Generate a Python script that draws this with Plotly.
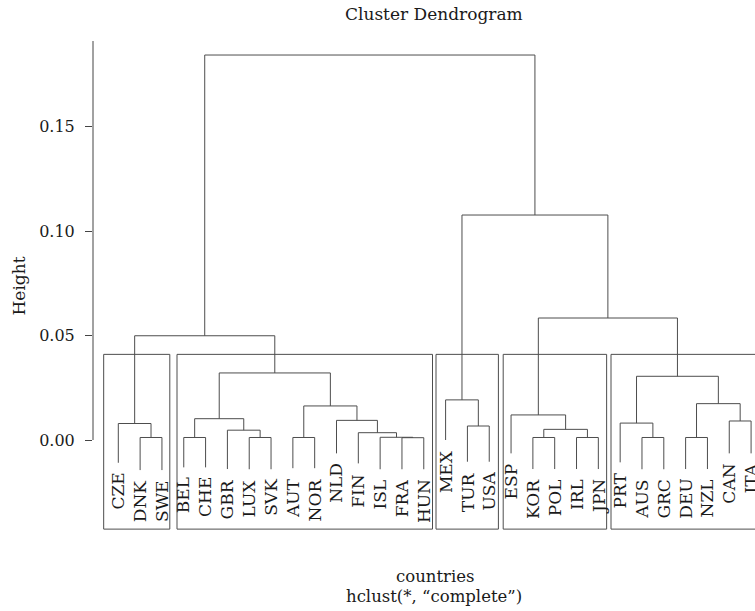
import plotly.graph_objects as go

# ---------------- data ----------------
leaf_labels = ["CZE", "DNK", "SWE", "BEL", "CHE", "GBR", "LUX", "SVK", "AUT", "NOR",
               "NLD", "FIN", "ISL", "FRA", "HUN", "MEX", "TUR", "USA", "ESP", "KOR",
               "POL", "IRL", "JPN", "PRT", "AUS", "GRC", "DEU", "NZL", "CAN", "ITA"]

# lower end of each leaf's hanging line (Height units)
leaf_ends = [-0.0109, -0.0144, -0.0144, -0.0131, -0.0131, -0.0139, -0.0140, -0.0140, -0.0135, -0.0135,
             -0.0064, -0.0112, -0.0140, -0.0140, -0.0140, 0.0000, -0.0104, -0.0104, -0.0064, -0.0139,
             -0.0139, -0.0139, -0.0139, -0.0107, -0.0140, -0.0140, -0.0139, -0.0139, -0.0064, -0.0064]

# merges: (name, child a, child b, height)
merges = [
    ("m1", "DNK", "SWE", 0.0012),
    ("m2", "CZE", "m1", 0.0079),
    ("m3", "BEL", "CHE", 0.0012),
    ("m4", "LUX", "SVK", 0.0012),
    ("m5", "GBR", "m4", 0.0047),
    ("m6", "m3", "m5", 0.0102),
    ("m7", "AUT", "NOR", 0.0012),
    ("m8", "FRA", "HUN", 0.0011),
    ("m9", "ISL", "m8", 0.0013),
    ("m10", "FIN", "m9", 0.0035),
    ("m11", "NLD", "m10", 0.0094),
    ("m12", "m7", "m11", 0.0163),
    ("m13", "m6", "m12", 0.0321),
    ("m14", "m2", "m13", 0.0499),
    ("m15", "TUR", "USA", 0.0067),
    ("m16", "MEX", "m15", 0.0192),
    ("m17", "KOR", "POL", 0.0012),
    ("m18", "IRL", "JPN", 0.0012),
    ("m19", "m17", "m18", 0.0051),
    ("m20", "ESP", "m19", 0.0120),
    ("m21", "AUS", "GRC", 0.0012),
    ("m22", "PRT", "m21", 0.0081),
    ("m23", "DEU", "NZL", 0.0012),
    ("m24", "CAN", "ITA", 0.0091),
    ("m25", "m23", "m24", 0.0174),
    ("m26", "m22", "m25", 0.0305),
    ("m27", "m20", "m26", 0.0584),
    ("m28", "m16", "m27", 0.1077),
    ("m29", "m14", "m28", 0.1843),
]

# rect.hclust boxes (k = 5): first and last leaf of each cluster
cluster_first = ["CZE", "BEL", "MEX", "ESP", "PRT"]
cluster_last = ["SWE", "HUN", "USA", "JPN", "ITA"]
box_top = 0.041

y_tick_vals = [0.0, 0.05, 0.10, 0.15]
y_tick_text = ["0.00", "0.05", "0.10", "0.15"]

title_text = "Cluster Dendrogram"
x_title = "countries"
sub_title = "hclust(*, \u201ccomplete\u201d)"
y_title = "Height"

# ---------------- geometry ----------------
FONT = "DejaVu Serif"
LINE = "#4d4d4d"
TXT = "#1a1a1a"

W, H = 755, 611
ML, MR, MT, MB = 93, 0, 38, 80
PX_PER_UNIT_Y = 2088.9
LEAF_STEP = 21.82
FIRST_LEAF_PX = 118.3

plot_h = H - MT - MB
y_top = 0.19101 + (41 - MT) / PX_PER_UNIT_Y
y_bot = y_top - plot_h / PX_PER_UNIT_Y
x_left = 1 - (FIRST_LEAF_PX - ML) / LEAF_STEP
x_right = x_left + (W - ML - MR) / LEAF_STEP

node = {}
for i, (lab, end) in enumerate(zip(leaf_labels, leaf_ends)):
    node[lab] = (i + 1, end)

xs, ys = [], []
for name, a, b, h in merges:
    xa, ya = node[a]
    xb, yb = node[b]
    xs += [xa, xa, xb, xb, None]
    ys += [ya, h, h, yb, None]
    node[name] = ((xa + xb) / 2, h)

fig = go.Figure()
fig.add_trace(go.Scatter(x=xs, y=ys, mode="lines",
                         line=dict(color=LINE, width=1),
                         hoverinfo="skip", showlegend=False))

shapes = []
left_off = [-0.67, -0.31, -0.44, -0.36, -0.42]
right_off = [0.36, 0.40, 0.42, 0.38, 0.40]
for k, (f, l) in enumerate(zip(cluster_first, cluster_last)):
    i0 = leaf_labels.index(f) + 1
    i1 = leaf_labels.index(l) + 1
    shapes.append(dict(type="rect", xref="x", yref="y",
                       x0=i0 + left_off[k], x1=i1 + right_off[k],
                       y0=y_bot + 0.0009, y1=box_top,
                       line=dict(color=LINE, width=1),
                       fillcolor="rgba(0,0,0,0)"))
# y axis line (only over the data range, as in base R)
shapes.append(dict(type="line", xref="paper", yref="y", x0=0, x1=0,
                   y0=0, y1=0.191, line=dict(color="#444444", width=1)))

annotations = []
for i, (lab, end) in enumerate(zip(leaf_labels, leaf_ends)):
    annotations.append(dict(x=i + 1, y=end, xref="x", yref="y",
                            text=lab, showarrow=False, textangle=-90,
                            xanchor="center", yanchor="top", yshift=-8,
                            font=dict(family=FONT, size=17, color=TXT)))

def py(p):
    return (H - MB - p) / plot_h

def px(p):
    return (p - ML) / (W - ML - MR)

annotations += [
    dict(x=px(434), y=py(14), xref="paper", yref="paper", text=title_text,
         showarrow=False, xanchor="center", yanchor="middle",
         font=dict(family=FONT, size=17, color=TXT)),
    dict(x=px(435), y=py(576), xref="paper", yref="paper", text=x_title,
         showarrow=False, xanchor="center", yanchor="middle", borderpad=0,
         font=dict(family=FONT, size=16.5, color=TXT)),
    dict(x=px(434), y=py(596), xref="paper", yref="paper", text=sub_title,
         showarrow=False, xanchor="center", yanchor="middle", borderpad=0,
         font=dict(family=FONT, size=16.5, color=TXT)),
    dict(x=px(18.5), y=py(286), xref="paper", yref="paper", text=y_title,
         showarrow=False, xanchor="center", yanchor="middle", textangle=-90,
         font=dict(family=FONT, size=17, color=TXT)),
]

fig.update_layout(
    width=W, height=H,
    margin=dict(l=ML, r=MR, t=MT, b=MB, pad=0),
    paper_bgcolor="white", plot_bgcolor="white",
    shapes=shapes, annotations=annotations,
    showlegend=False,
    xaxis=dict(range=[x_left, x_right], visible=False, fixedrange=True),
    yaxis=dict(range=[y_bot, y_top], showgrid=False, zeroline=False,
               showline=False, tickmode="array", tickvals=y_tick_vals,
               ticktext=y_tick_text, ticks="outside", ticklen=7,
               tickcolor="#444444", tickwidth=1, ticklabelstandoff=7,
               tickfont=dict(family=FONT, size=16, color=TXT),
               fixedrange=True),
)

fig.write_html("out.html", config={"displayModeBar": False})
